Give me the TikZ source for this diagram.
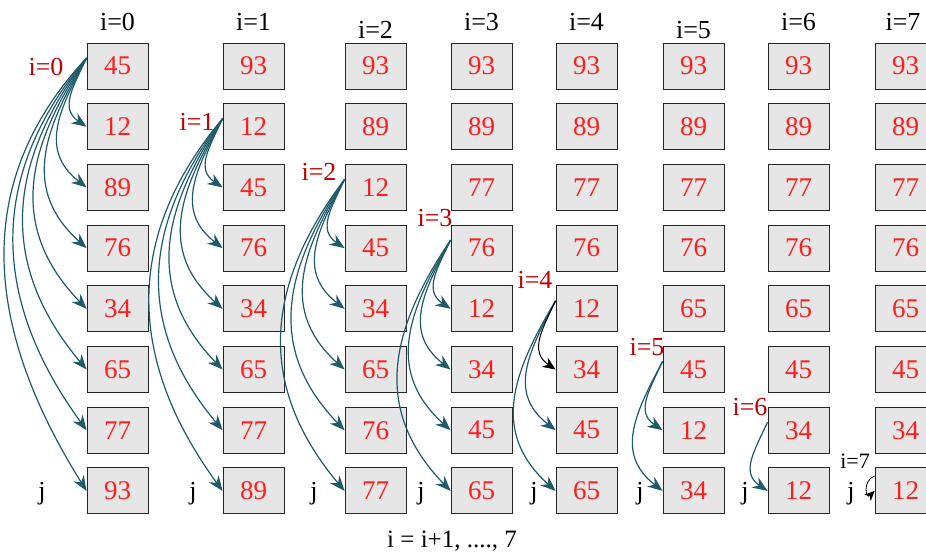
\documentclass[tikz,border=0pt]{standalone}
\usepackage{fontspec}
\setmainfont{Liberation Serif}
\usetikzlibrary{arrows.meta}
\definecolor{arrteal}{RGB}{31,90,105}
\definecolor{numred}{RGB}{255,30,30}
\definecolor{lblred}{RGB}{192,0,0}
\definecolor{boxfill}{RGB}{230,230,230}
\tikzset{
  cell/.style={draw=black!85, fill=boxfill, line width=0.9pt, minimum width=61pt, minimum height=46pt, inner sep=0pt, text=numred, font=\fontsize{27}{27}\selectfont},
  hdr/.style={inner sep=0pt, text=black, font=\fontsize{26}{26}\selectfont},
  redlbl/.style={inner sep=0pt, text=lblred, font=\fontsize{26}{26}\selectfont},
  jlbl/.style={inner sep=0pt, text=black, font=\fontsize{26}{26}\selectfont},
  arr/.style={draw=arrteal, line width=1.2pt, -{Stealth[length=15pt,width=12pt]}},
  blackarr/.style={draw=black, line width=1pt, -{Stealth[length=13pt,width=11pt]}},
  smallblackarr/.style={draw=black, line width=0.8pt, -{Stealth[length=10pt,width=9pt]}}
}
\newcommand\mkcol[3]{\foreach \v [count=\r from 0] in {#3} {\node[cell] (c#1r\r) at (#2,{-66-60.7*\r}) {\v};}}
\newcommand\fan[4]{%
  \foreach \t in {#3,...,#4} {%
    \pgfmathsetmacro\k{\t-#2}%
    \pgfmathsetmacro\outang{248-3*\k}%
    \pgfmathsetmacro\inang{150-4*\k}%
    \pgfmathsetmacro\loose{1.24-0.025*\k}%
    \draw[arr] ([yshift=8pt]c#1r#2.west) to[out=\outang,in=\inang,looseness=\loose] (c#1r\t.west);
  }}
\begin{document}
\begin{tikzpicture}[x=1pt,y=1pt]
\useasboundingbox (0,0) rectangle (926,-554);
\mkcol{0}{117.5}{45,12,89,76,34,65,77,93}
\mkcol{1}{253.5}{93,12,45,76,34,65,77,89}
\mkcol{2}{375.5}{93,89,12,45,34,65,76,77}
\mkcol{3}{481.5}{93,89,77,76,12,34,45,65}
\mkcol{4}{586.5}{93,89,77,76,12,34,45,65}
\mkcol{5}{693.5}{93,89,77,76,65,45,12,34}
\mkcol{6}{798.5}{93,89,77,76,65,45,34,12}
\mkcol{7}{905.5}{93,89,77,76,65,45,34,12}
% headers
\node[hdr] (h0) at (117.5,-22) {i=0};
\node[hdr] (h1) at (253.5,-22) {i=1};
\node[hdr] (h2) at (375.5,-30) {i=2};
\node[hdr] (h3) at (481.5,-22) {i=3};
\node[hdr] (h4) at (586.5,-22) {i=4};
\node[hdr] (h5) at (693.5,-30) {i=5};
\node[hdr] (h6) at (798.5,-22) {i=6};
\node[hdr] (h7) at (903,-22) {i=7};
% red labels
\node[redlbl] (l0) at (46,-67) {i=0};
\node[redlbl] (l1) at (197,-122) {i=1};
\node[redlbl] (l2) at (319,-172) {i=2};
\node[redlbl] (l3) at (435,-218) {i=3};
\node[redlbl] (l4) at (535,-280) {i=4};
\node[redlbl] (l5) at (647,-347) {i=5};
\node[redlbl] (l6) at (750,-407) {i=6};
\node[hdr, font=\fontsize{22}{22}\selectfont] (l7) at (855,-461) {i=7};
% j labels
\foreach \x [count=\n] in {42,193,314,421,534,640,745,851} {\node[jlbl] (j\n) at (\x,-494) {j};}
% bottom text
\node[hdr, font=\fontsize{25}{25}\selectfont, anchor=base] (bt) at (452,-547) {i = i+1, ...., 7};
% arrows
\fan{0}{0}{1}{7}
\fan{1}{1}{2}{7}
\fan{2}{2}{3}{7}
\fan{3}{3}{4}{7}
\fan{4}{4}{6}{7}
\draw[blackarr] ([yshift=8pt]c4r4.west) to[out=245,in=146,looseness=1.2] (c4r5.west);
\fan{5}{5}{6}{7}
\fan{6}{6}{7}{7}
\draw[smallblackarr] ([yshift=15pt]c7r7.west) to[out=200,in=225,looseness=2.2] (c7r7.west);
\end{tikzpicture}
\end{document}
